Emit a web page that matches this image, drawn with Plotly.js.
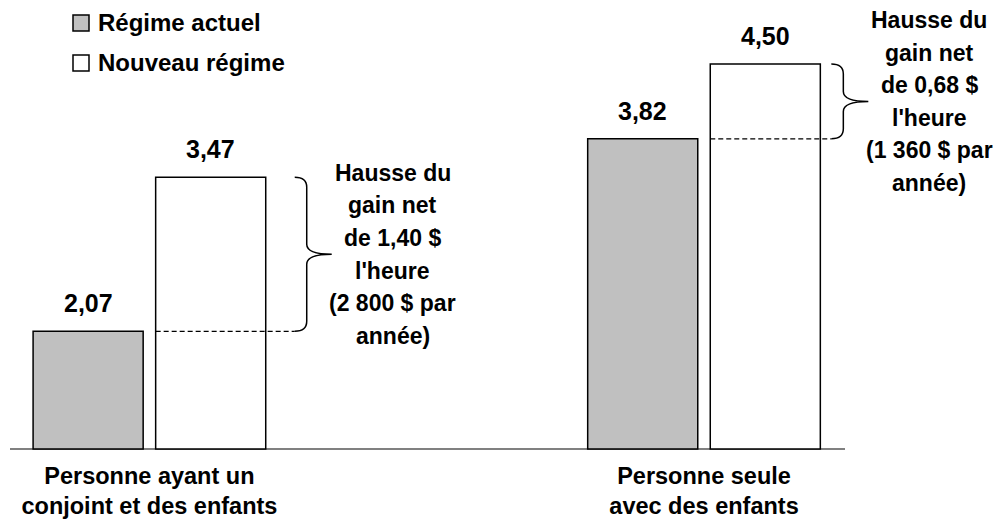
<!DOCTYPE html>
<html>
<head>
<meta charset="utf-8">
<script src="https://cdn.plot.ly/plotly-3.0.1.min.js"></script>
<style>html,body{margin:0;padding:0;background:#fff;}#chart{width:1000px;height:522px;}</style>
</head>
<body>
<div id="chart"></div>
<script>
// ---- data ----
const categories = ['Personne ayant un<br>conjoint et des enfants', 'Personne seule<br>avec des enfants'];
const seriesNames = ['Régime actuel', 'Nouveau régime'];
const actuel = [2.07, 3.82];
const nouveau = [3.47, 4.50];
const noteLines = [
  ['Hausse du', 'gain net', 'de 1,40 $', "l'heure", '(2 800 $ par', 'année)'],
  ['Hausse du', 'gain net', 'de 0,68 $', "l'heure", '(1 360 $ par', 'année)']
];
const seriesColors = ['#c0c0c0', '#ffffff'];

// ---- layout constants ----
const W = 1000, H = 522;
const mT = 9, mB = 70;
const plotH = H - mT - mB;
const xRange = [-0.2694, 1.5337];
const yRange = [0.97273, 5];
const ux = (xRange[1] - xRange[0]) / W;      // data units per px (x)
const uy = (yRange[1] - yRange[0]) / plotH;  // data units per px (y)
const bargap = 0.558, bargroupgap = 0.102;
const slot = (1 - bargap) / 2;
const barOff = slot / 2;
const barHalf = slot * (1 - bargroupgap) / 2;
const baseVal = 1;
const FONT = 'Liberation Sans, Arial, Helvetica, sans-serif';
const xIdx = categories.map((c, i) => i);
const fmt = v => v.toFixed(2).replace('.', ',');

const traces = [actuel, nouveau].map((arr, s) => ({
  type: 'bar', name: seriesNames[s], x: xIdx, y: arr.map(v => v - baseVal), base: baseVal,
  marker: {color: seriesColors[s], line: {color: '#000', width: 1.5}}, hoverinfo: 'skip', showlegend: false
}));

const shapes = [];
const annotations = [];

// baseline
shapes.push({type: 'line', xref: 'x', yref: 'y', x0: xRange[0] + 10 * ux, x1: xRange[0] + 845 * ux, y0: baseVal, y1: baseVal,
  line: {color: '#808080', width: 2}, layer: 'below'});

// legend (drawn by hand: squares + labels)
const legTextY = [23, 63];
seriesNames.forEach((n, s) => {
  const cy = legTextY[s];
  shapes.push({type: 'rect', xref: 'paper', yref: 'paper', x0: 73 / W, x1: 89 / W,
    y0: 1 - (cy + 8 - mT) / plotH, y1: 1 - (cy - 8 - mT) / plotH,
    fillcolor: seriesColors[s], line: {color: '#000', width: 1.5}});
  annotations.push({xref: 'paper', yref: 'paper', x: 96 / W, y: 1 - (cy - mT) / plotH, xanchor: 'left', yanchor: 'middle',
    text: '<b>' + n + '</b>', showarrow: false, font: {family: FONT, size: 24, color: '#000'}});
});

// value labels
xIdx.forEach(i => {
  [[actuel, -barOff], [nouveau, barOff]].forEach(([arr, off]) => {
    annotations.push({xref: 'x', yref: 'y', x: i + off, y: arr[i], text: '<b>' + fmt(arr[i]) + '</b>',
      showarrow: false, yanchor: 'middle', yshift: 28, font: {family: FONT, size: 25, color: '#000'}});
  });
});

// braces, dashed lines and notes
const braceGapPx = [29, 11];
const wPx = 12, tipPx = 37, rPx = 10;
xIdx.forEach(i => {
  const barLeft = i + barOff - barHalf;
  const barRight = i + barOff + barHalf;
  const x0 = barRight + braceGapPx[i] * ux;
  const yLo = actuel[i], yHi = nouveau[i], ym = (yLo + yHi) / 2;
  const xw = x0 + wPx * ux, xt = x0 + tipPx * ux, r = rPx * uy;
  shapes.push({type: 'line', xref: 'x', yref: 'y', x0: barLeft, x1: x0, y0: yLo, y1: yLo,
    line: {color: '#000', width: 1.3, dash: '5px,3px'}});
  const p = `M${x0},${yLo} Q${xw},${yLo} ${xw},${yLo + r} L${xw},${ym - r} Q${xw},${ym} ${xt},${ym} ` +
            `Q${xw},${ym} ${xw},${ym + r} L${xw},${yHi - r} Q${xw},${yHi} ${x0},${yHi}`;
  shapes.push({type: 'path', xref: 'x', yref: 'y', path: p, line: {color: '#000', width: 1.5}});
  const lines = noteLines[i];
  lines.forEach((t, k) => {
    annotations.push({xref: 'x', yref: 'y', x: x0 + 98 * ux, y: ym, text: '<b>' + t + '</b>', showarrow: false,
      xanchor: 'center', yanchor: 'middle', yshift: ((lines.length - 1) / 2 - k) * 32.6,
      font: {family: FONT, size: 23, color: '#000'}});
  });
});

const layout = {
  width: W, height: H,
  margin: {l: 0, r: 0, t: mT, b: mB, pad: 0},
  paper_bgcolor: '#fff', plot_bgcolor: '#fff',
  barmode: 'group', bargap: bargap, bargroupgap: bargroupgap,
  font: {family: FONT, size: 23, color: '#000'},
  showlegend: false,
  xaxis: {type: 'linear', range: xRange, tickvals: xIdx, ticktext: categories.map(c => '<b>' + c + '</b>'),
    showgrid: false, zeroline: false, showline: false, ticks: '', ticklabelstandoff: 7,
    tickfont: {family: FONT, size: 23.5, color: '#000'}, fixedrange: true},
  yaxis: {range: yRange, visible: false, showgrid: false, zeroline: false, fixedrange: true},
  shapes: shapes,
  annotations: annotations
};

Plotly.newPlot('chart', traces, layout, {displayModeBar: false, staticPlot: true});
</script>
</body>
</html>
